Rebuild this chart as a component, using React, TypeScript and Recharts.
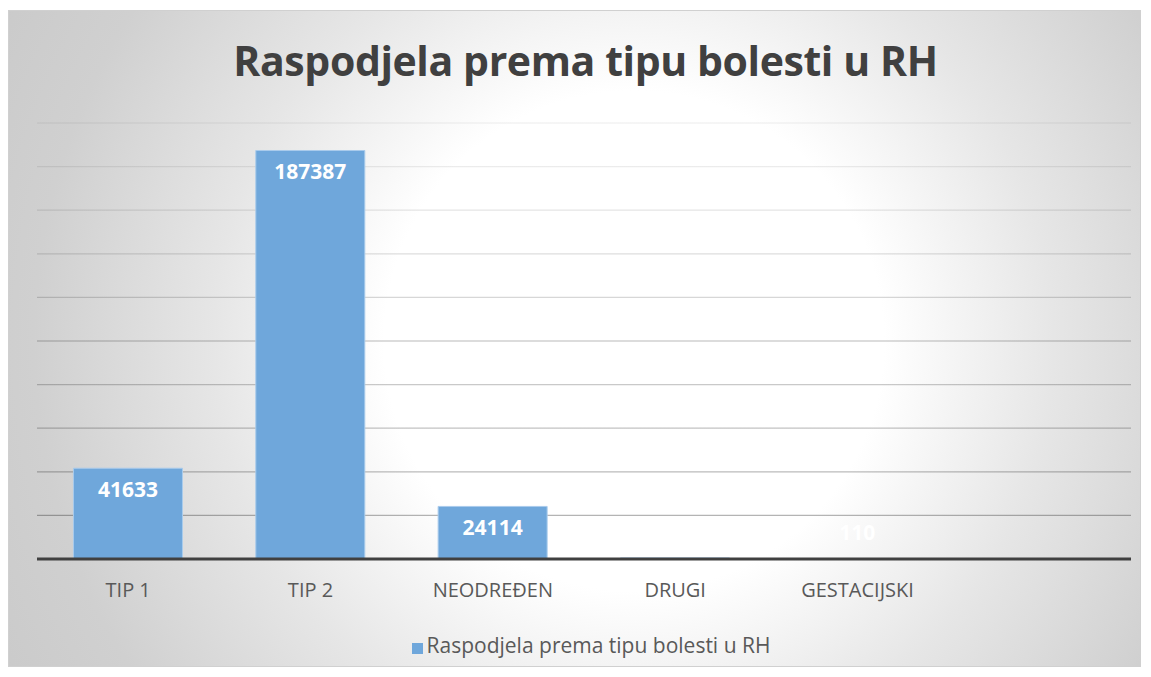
import { BarChart, Bar, XAxis, YAxis, CartesianGrid, Legend, LabelList } from 'recharts';

const categories = ['TIP 1', 'TIP 2', 'NEODREĐEN', 'DRUGI', 'GESTACIJSKI', ''];
const values = [41633, 187387, 24114, 500, 110, null];
const yTicks = [0, 20000, 40000, 60000, 80000, 100000, 120000, 140000, 160000, 180000, 200000];
const seriesName = 'Raspodjela prema tipu bolesti u RH';

const data = categories.map((name, i) => ({ name, value: values[i] }));

const BarLabel = (props: any) => {
  const { x, y, width, height, value } = props;
  if (value == null) return null;
  const cy = height >= 40 ? y + 21 : y + height - 26;
  return (
    <text
      x={x + width / 2}
      y={cy}
      dy="0.35em"
      textAnchor="middle"
      fill="#ffffff"
      fontSize={21}
      fontWeight={700}
      fontFamily="'Open Sans', sans-serif"
    >
      {value}
    </text>
  );
};

export default function App() {
  return (
    <div
      style={{
        position: 'relative',
        width: 1131,
        height: 655,
        marginTop: 2,
        border: '1px solid #d0d0d0',
        background:
          'radial-gradient(circle at 625px 330px, #ffffff 0px, #ffffff 250px, #e6e6e6 420px, #d0d0d0 600px, #c6c6c6 800px)',
        fontFamily: "'Open Sans', sans-serif",
      }}
    >
      <div
        style={{
          position: 'absolute',
          left: 22,
          right: 0,
          top: 21,
          textAlign: 'center',
          fontSize: 41,
          fontWeight: 700,
          color: '#404040',
          letterSpacing: -0.4,
          lineHeight: 'normal',
        }}
      >
        Raspodjela prema tipu bolesti u RH
      </div>
      <BarChart
        width={1131}
        height={655}
        data={data}
        margin={{ top: 112, right: 9, left: 28, bottom: 33 }}
        barCategoryGap="20%"
      >
        <defs>
          <linearGradient id="gridGrad" gradientUnits="userSpaceOnUse" x1="0" y1="112" x2="0" y2="548">
            <stop offset="0%" stopColor="#000" stopOpacity={0.05} />
            <stop offset="100%" stopColor="#000" stopOpacity={0.32} />
          </linearGradient>
        </defs>
        <CartesianGrid vertical={false} stroke="url(#gridGrad)" strokeWidth={1.3} />
        <YAxis hide domain={[0, 200000]} ticks={yTicks} />
        <XAxis
          dataKey="name"
          axisLine={{ stroke: '#404040', strokeWidth: 3 }}
          tickLine={false}
          tick={{ fill: '#595959', fontSize: 20 }}
          tickMargin={18}
          height={48}
        />
        <Legend
          verticalAlign="bottom"
          align="center"
          iconType="square"
          iconSize={11}
          formatter={(v: string) => <span style={{ color: '#595959', fontSize: 21 }}>{v}</span>}
          wrapperStyle={{ bottom: 8, height: 26, lineHeight: '26px', paddingLeft: 12 }}
        />
        <Bar
          dataKey="value"
          name={seriesName}
          fill="#6fa7db"
          stroke="#a9cbec"
          strokeWidth={1}
          isAnimationActive={false}
        >
          <LabelList dataKey="value" content={BarLabel} />
        </Bar>
      </BarChart>
    </div>
  );
}
